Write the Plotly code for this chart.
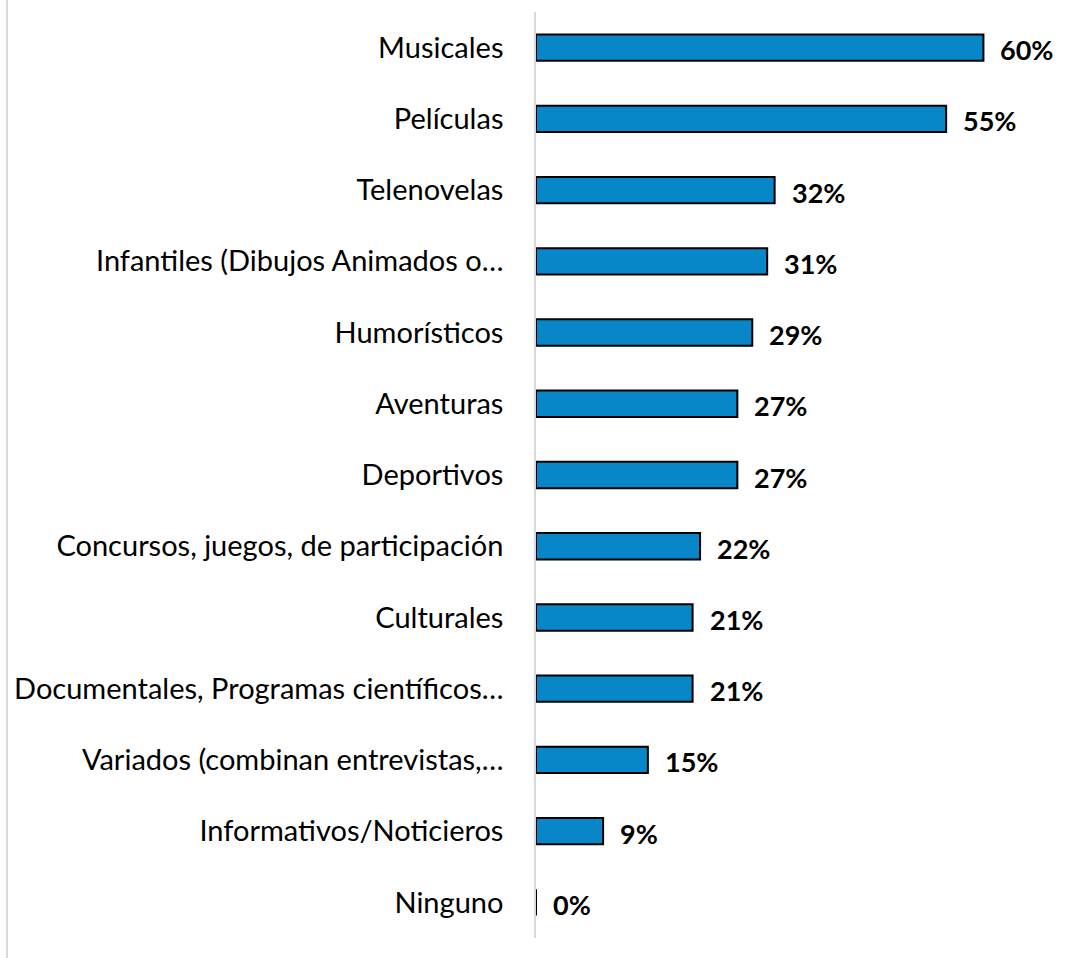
import plotly.graph_objects as go

# Program genres, top to bottom, with share of respondents (%)
categories = [
    "Musicales",
    "Películas",
    "Telenovelas",
    "Infantiles (Dibujos Animados o…",
    "Humorísticos",
    "Aventuras",
    "Deportivos",
    "Concursos, juegos, de participación",
    "Culturales",
    "Documentales, Programas científicos…",
    "Variados (combinan entrevistas,…",
    "Informativos/Noticieros",
    "Ninguno",
]
values = [60, 55, 32, 31, 29, 27, 27, 22, 21, 21, 15, 9, 0]

FONT = "Lato"
BAR_COLOR = "#0786C8"

fig = go.Figure(
    go.Bar(
        x=values,
        y=categories,
        orientation="h",
        marker=dict(color=BAR_COLOR, line=dict(color="#000000", width=2)),
        hoverinfo="x+y",
    )
)

# Bold percentage labels to the right of each bar
for cat, v in zip(categories, values):
    fig.add_annotation(
        x=v, y=cat, xref="x", yref="y",
        text=f"<b>{v}%</b>",
        showarrow=False, xanchor="left", yanchor="middle",
        xshift=15, yshift=-2,
        font=dict(family=FONT, size=27, color="#000000"),
    )

W, H = 1078, 958
ML, MR, MT, MB = 536, 20, 12, 20
pw, ph = W - ML - MR, H - MT - MB

# Thin frame line on the far left of the chart area
fig.add_shape(
    type="line", xref="paper", yref="paper",
    x0=(7 - ML) / pw, x1=(7 - ML) / pw,
    y0=-MB / ph, y1=1 + MT / ph,
    line=dict(color="#D9D9D9", width=2),
)

fig.update_layout(
    width=W, height=H,
    margin=dict(l=ML, r=MR, t=MT, b=MB, autoexpand=False),
    paper_bgcolor="white", plot_bgcolor="white",
    bargap=0.63,
    showlegend=False,
    font=dict(family=FONT, size=29, color="#000000"),
    xaxis=dict(
        range=[0, 70], showgrid=False, zeroline=False,
        showticklabels=False, ticks="",
        showline=False, automargin=False,
    ),
    yaxis=dict(
        autorange="reversed", showgrid=False, zeroline=False,
        showline=True, linecolor="#D9D9D9", linewidth=1.5,
        ticks="", ticklabelstandoff=25, automargin=False,
        tickfont=dict(family=FONT, size=29, color="#000000"),
    ),
)

fig.write_html("out.html")
